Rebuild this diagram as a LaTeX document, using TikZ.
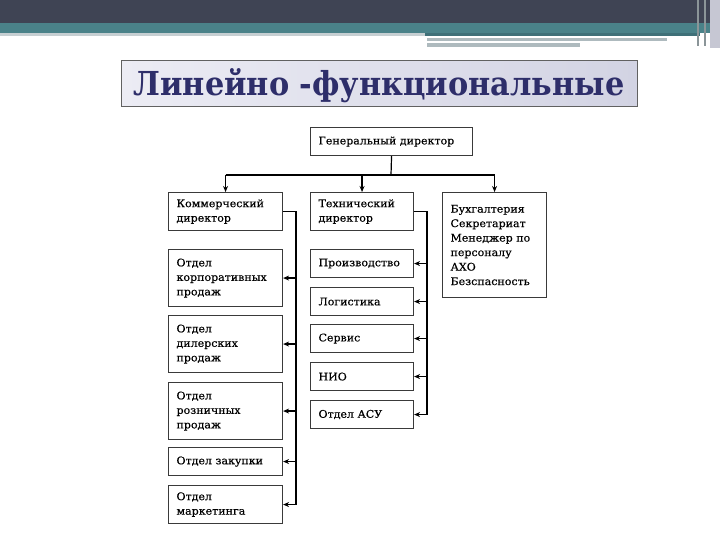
\documentclass[tikz,border=0pt]{standalone}
\usepackage{fontspec}
\setmainfont{DejaVu Serif}
\newfontfamily\boxfont[FakeStretch=1.05,FakeBold=0.4]{DejaVu Serif}
\newfontfamily\titlefont[FakeStretch=0.92]{DejaVu Serif}
\usetikzlibrary{arrows.meta}
\definecolor{hdark}{HTML}{3F4454}
\definecolor{hteal}{HTML}{4A8289}
\definecolor{htealdk}{HTML}{3F7078}
\definecolor{hgray}{HTML}{AEBABE}
\definecolor{hlight}{HTML}{C6C7D3}
\definecolor{boxline}{HTML}{3A3A3A}
\definecolor{titlecol}{HTML}{2E2E6A}
\definecolor{tleft}{HTML}{ECECF4}
\definecolor{tright}{HTML}{D2D3E3}
\tikzset{
  orgbox/.style={draw=boxline, line width=1.1pt, rectangle, anchor=north west,
    align=left, inner xsep=8pt, inner ysep=0pt,
    font=\boxfont\fontsize{10.5}{14.5}\selectfont},
  bus/.style={line width=1.8pt, black},
  arr/.style={line width=1.2pt, black, -{Stealth[length=6pt,width=5pt]}},
  link/.style={line width=1.2pt, black}
}
\begin{document}
\begin{tikzpicture}[x=1pt,y=-1pt]
\useasboundingbox (0,0) rectangle (720,540);
% header
\fill[white] (0,0) rectangle (720,540);
\fill[hdark] (0,0) rectangle (720,23);
\fill[hteal] (0,23) rectangle (720,33);
\fill[htealdk] (425,33) rectangle (700,36);
\fill[hgray!70] (0,33) rectangle (425,36);
\fill[hgray] (427,38) rectangle (667,41);
\fill[hgray] (427,43) rectangle (580,47);
\fill[hlight] (710,0) rectangle (720,48);
\draw[line width=1.5pt, hgray!80!black] (698,0) -- (698,46);
\draw[line width=1.5pt, hgray!80!black] (705,0) -- (705,46);
% title
\node[draw=boxline!80, line width=0.8pt, left color=tleft, right color=tright,
      minimum width=516pt, minimum height=46pt, anchor=north west, inner sep=0pt] (titlebox) at (121,60) {};
\node[text=titlecol, font=\titlefont\bfseries\fontsize{33}{33}\selectfont] (title) at (379,86) {Линейно -функциональные};
% boxes
\node[orgbox, text width=146pt, minimum height=28pt] (gen) at (310,127) {Генеральный директор};
\node[orgbox, text width=98pt, minimum height=38pt] (comm) at (168,192) {Коммерческий\\директор};
\node[orgbox, text width=87pt, minimum height=38pt] (tech) at (310,192) {Технический\\директор};
\node[orgbox, text width=88pt, minimum height=105pt] (buh) at (442,192) {Бухгалтерия\\Секретариат\\Менеджер по\\персоналу\\АХО\\Безспасность};
\node[orgbox, text width=98pt, minimum height=57pt] (corp) at (168,249) {Отдел\\корпоративных\\продаж};
\node[orgbox, text width=98pt, minimum height=57pt] (dil) at (168,315) {Отдел\\дилерских\\продаж};
\node[orgbox, text width=98pt, minimum height=57pt] (rozn) at (168,382) {Отдел\\розничных\\продаж};
\node[orgbox, text width=98pt, minimum height=28pt] (zak) at (168,447) {Отдел закупки};
\node[orgbox, text width=98pt, minimum height=38pt] (mark) at (168,485) {Отдел\\маркетинга};
\node[orgbox, text width=87pt, minimum height=28pt] (prod) at (310,249) {Производство};
\node[orgbox, text width=87pt, minimum height=28pt] (log) at (310,287) {Логистика};
\node[orgbox, text width=87pt, minimum height=28pt] (serv) at (310,324) {Сервис};
\node[orgbox, text width=87pt, minimum height=28pt] (nio) at (310,362) {НИО};
\node[orgbox, text width=87pt, minimum height=28pt] (asu) at (310,400) {Отдел АСУ};
% top connectors
\coordinate (topbus) at (391,175);
\draw[link] (gen.south) -- (topbus);
\draw[link] (comm.north |- topbus) -- (buh.north |- topbus);
\draw[arr] (comm.north |- topbus) -- (comm.north);
\draw[arr] (tech.north |- topbus) -- (tech.north);
\draw[arr] (buh.north |- topbus) -- (buh.north);
% left bus
\coordinate (lb) at (296,210);
\draw[bus] (comm.east) -- (comm.east -| lb) -- (mark.east -| lb);
\foreach \n in {corp,dil,rozn,zak,mark}
  \draw[arr] (\n.east -| lb) -- (\n.east);
% right bus
\coordinate (rb) at (427,210);
\draw[bus] (tech.east) -- (tech.east -| rb) -- (asu.east -| rb);
\foreach \n in {prod,log,serv,nio,asu}
  \draw[arr] (\n.east -| rb) -- (\n.east);
\end{tikzpicture}
\end{document}
